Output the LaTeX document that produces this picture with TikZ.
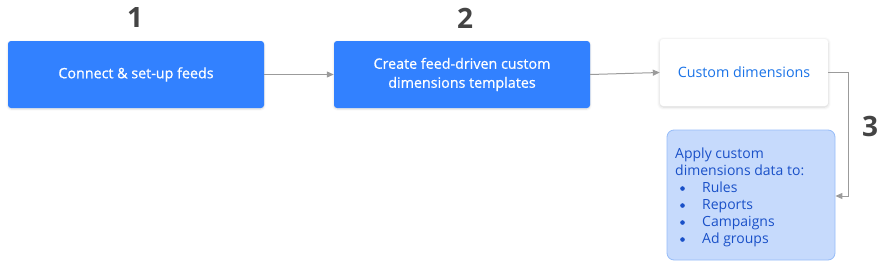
\documentclass[tikz,border=0pt]{standalone}
\usepackage{fontspec}
\setmainfont{Open Sans}
\newfontfamily\medfont[FakeBold=0.7]{Open Sans}
\usetikzlibrary{arrows.meta,shadows.blur}
\definecolor{gblue}{RGB}{50,129,255}
\definecolor{tblue}{RGB}{26,115,232}
\definecolor{lblue}{RGB}{198,218,252}
\definecolor{lborder}{RGB}{150,188,248}
\definecolor{dblue}{RGB}{25,80,200}
\definecolor{numgray}{RGB}{68,68,68}
\definecolor{arrgray}{RGB}{155,155,155}
\tikzset{
  bluebox/.style={fill=gblue, rounded corners=3pt, minimum width=256pt, minimum height=67pt, text=white, align=center, font=\medfont\fontsize{14.3}{19}\selectfont, inner sep=0pt, blur shadow={shadow blur steps=5, shadow xshift=0pt, shadow yshift=-1pt, shadow opacity=15, shadow blur radius=2pt}},
  whitebox/.style={fill=white, rounded corners=3pt, minimum width=168pt, minimum height=67pt, text=tblue, font=\fontsize{14.3}{19}\selectfont, inner sep=0pt, blur shadow={shadow blur steps=6, shadow xshift=0pt, shadow yshift=-1pt, shadow opacity=18, shadow blur radius=3pt}},
  applybox/.style={fill=lblue, draw=lborder, line width=0.8pt, rounded corners=7pt, minimum width=168pt, minimum height=130pt, inner sep=0pt},
  num/.style={text=numgray, font=\fontsize{28}{30}\selectfont\bfseries, inner sep=0pt},
  conn/.style={draw=arrgray, line width=1pt, -{Triangle[length=7pt,width=6pt]}},
}
\newcommand{\bul}{\makebox[27pt][l]{\hspace{5pt}\tikz[baseline=-3.8pt]\fill (0,0) circle (2.3pt);}}
\begin{document}
\begin{tikzpicture}[x=1pt,y=-1pt]
\useasboundingbox (0,0) rectangle (895,273);
\node[bluebox] (b1) at (136,74.5) {Connect \& set-up feeds};
\node[bluebox] (b2) at (462,74.5) {Create feed-driven custom\\dimensions templates};
\node[whitebox] (b3) at (744,72.5) {Custom dimensions};
\node[applybox] (b4) at (751,195) {};
\node[anchor=north west, text=dblue, font=\fontsize{14}{17}\selectfont, align=left, inner sep=0pt] (t4) at (675,147.5)
  {Apply custom\\dimensions data to:\\
   \bul Rules\\
   \bul Reports\\
   \bul Campaigns\\
   \bul Ad groups};
\node[num] (n1) at (135,18) {1};
\node[num] (n2) at (465,18) {2};
\node[num] (n3) at (870,126) {3};
\coordinate (c1) at (848,72.5);
\coordinate (c2) at (848,196);
\draw[conn] (b1.east) -- (b2.east -| b2.west);
\draw[conn] (b2.east) -- (b3.west);
\draw[conn] (b3.east) -- (c1) -- (c2) -- (c2 -| b4.east);
\end{tikzpicture}
\end{document}
